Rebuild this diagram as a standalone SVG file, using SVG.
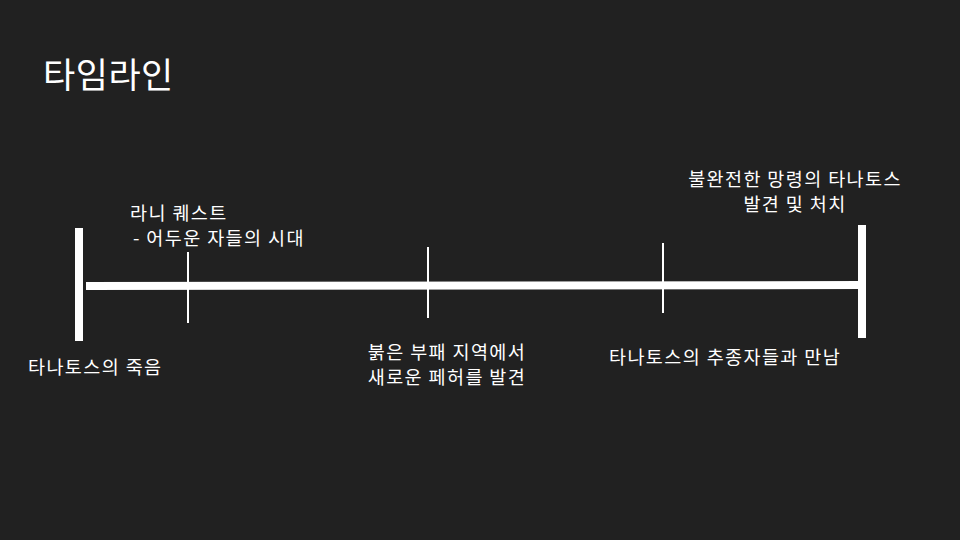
<svg xmlns="http://www.w3.org/2000/svg" width="960" height="540" viewBox="0 0 960 540">
<style>
text{font-family:"Noto Sans CJK KR","Noto Sans",sans-serif;fill:#ffffff;font-size:18.5px;letter-spacing:1.4px}
.title{font-size:35px;letter-spacing:0.5px}
.c{text-anchor:middle}
.tick{stroke:#ffffff;stroke-width:2}
.bar{stroke:#ffffff;stroke-width:8}
</style>
<rect width="960" height="540" fill="#212121"/>
<text class="title" x="43" y="88">타임라인</text>
<g id="connectors">
<line class="bar" x1="86" y1="286" x2="862" y2="285"/>
</g>
<g id="start"><line class="bar" x1="79" y1="228" x2="79" y2="341"/><text x="28" y="374">타나토스의 죽음</text></g>
<g id="event1"><line class="tick" x1="188" y1="252" x2="188" y2="323"/><text x="130" y="220">라니 퀘스트</text><text x="133" y="245">- 어두운 자들의 시대</text></g>
<g id="event2"><line class="tick" x1="428" y1="247" x2="428" y2="318"/><text class="c" x="447" y="359">붉은 부패 지역에서</text><text class="c" x="447" y="384">새로운 페허를 발견</text></g>
<g id="event3"><line class="tick" x1="663" y1="243" x2="663" y2="313"/><text x="609" y="364">타나토스의 추종자들과 만남</text></g>
<g id="end"><line class="bar" x1="862" y1="225" x2="862" y2="338"/><text class="c" x="795" y="186">불완전한 망령의 타나토스</text><text class="c" x="795" y="211">발견 및 처치</text></g>
</svg>
